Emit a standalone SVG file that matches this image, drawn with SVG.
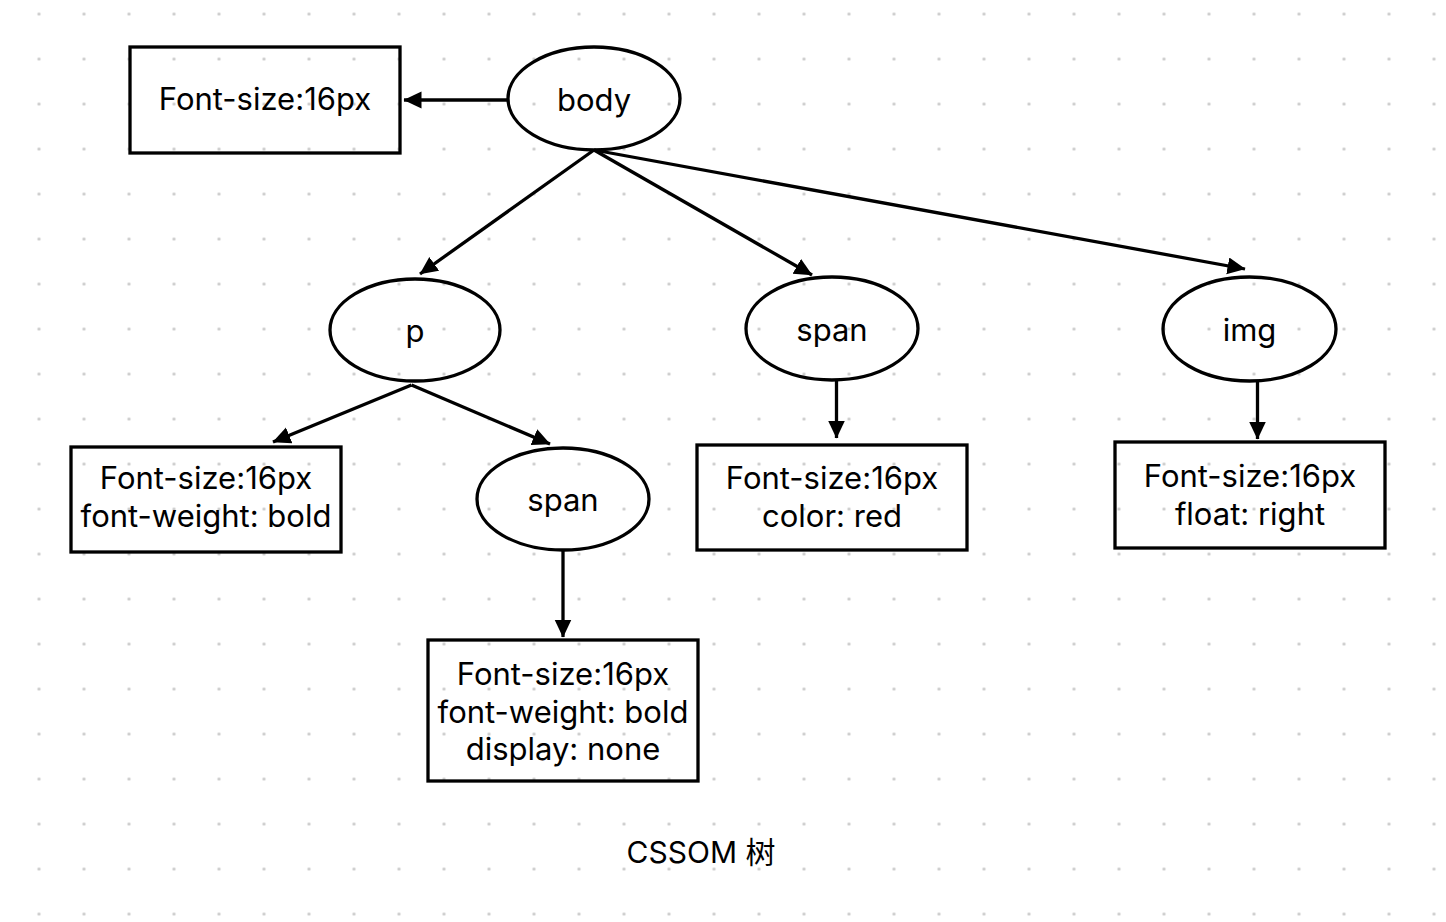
<svg xmlns="http://www.w3.org/2000/svg" width="1446" height="922" viewBox="0 0 1446 922">
<style>
.shape{fill:none;stroke:#000;stroke-width:3.3}
.edge{fill:none;stroke:#000;stroke-width:3.3;marker-end:url(#arrow)}
text{font-family:Inter,"Liberation Sans","Noto Sans CJK SC",sans-serif;font-size:31px;fill:#000;text-anchor:middle}
.title{font-size:30px}
</style>
<defs>
<pattern id="dots" x="16.5" y="-8.5" width="45" height="45" patternUnits="userSpaceOnUse">
<circle cx="22.5" cy="22.5" r="1.6" fill="#c8c8c8"/>
</pattern>
<marker id="arrow" markerUnits="userSpaceOnUse" markerWidth="19" markerHeight="18" refX="17.5" refY="8.5" orient="auto" viewBox="0 0 19 18">
<path d="M0,0 L18,8.5 L0,17 z" fill="#000"/>
</marker>
</defs>
<rect width="1446" height="922" fill="#fff"/>
<rect width="1446" height="922" fill="url(#dots)"/>
<g id="connectors">
<line class="edge" x1="508" y1="100" x2="404" y2="100"/>
<line class="edge" x1="594" y1="150" x2="420" y2="274"/>
<line class="edge" x1="594" y1="150" x2="812" y2="275"/>
<line class="edge" x1="594" y1="150" x2="1245" y2="269"/>
<line class="edge" x1="411.5" y1="385" x2="273" y2="442"/>
<line class="edge" x1="411.5" y1="385" x2="550" y2="444"/>
<line class="edge" x1="836.5" y1="381" x2="836.5" y2="438"/>
<line class="edge" x1="1257.5" y1="382" x2="1257.5" y2="439"/>
<line class="edge" x1="563" y1="550" x2="563" y2="637"/>
</g>
<g id="body">
<ellipse class="shape" cx="594" cy="98.5" rx="86" ry="51.5"/>
<text x="594" y="110.5">body</text>
</g>
<g id="body-style">
<rect class="shape" x="130" y="47" width="270" height="106"/>
<text x="265" y="110">Font-size:16px</text>
</g>
<g id="p">
<ellipse class="shape" cx="415" cy="330" rx="85" ry="51"/>
<text x="415" y="342">p</text>
</g>
<g id="span-mid">
<ellipse class="shape" cx="832" cy="328.5" rx="86" ry="51.5"/>
<text x="832" y="341">span</text>
</g>
<g id="img">
<ellipse class="shape" cx="1249.5" cy="329" rx="86.5" ry="52"/>
<text x="1249.5" y="341">img</text>
</g>
<g id="p-style">
<rect class="shape" x="71" y="447" width="270" height="105"/>
<text x="206" y="489">Font-size:16px</text>
<text x="206" y="527">font-weight: bold</text>
</g>
<g id="span-inner">
<ellipse class="shape" cx="563" cy="499" rx="86" ry="51"/>
<text x="563" y="511">span</text>
</g>
<g id="span-mid-style">
<rect class="shape" x="697" y="445" width="270" height="105"/>
<text x="832" y="489">Font-size:16px</text>
<text x="832" y="527">color: red</text>
</g>
<g id="img-style">
<rect class="shape" x="1115" y="442" width="270" height="106"/>
<text x="1250" y="487">Font-size:16px</text>
<text x="1250" y="525">float: right</text>
</g>
<g id="span-inner-style">
<rect class="shape" x="428" y="640" width="270" height="141"/>
<text x="563" y="685">Font-size:16px</text>
<text x="563" y="722.5">font-weight: bold</text>
<text x="563" y="760">display: none</text>
</g>
<g id="title">
<text class="title" x="701" y="863">CSSOM 树</text>
</g>
</svg>
